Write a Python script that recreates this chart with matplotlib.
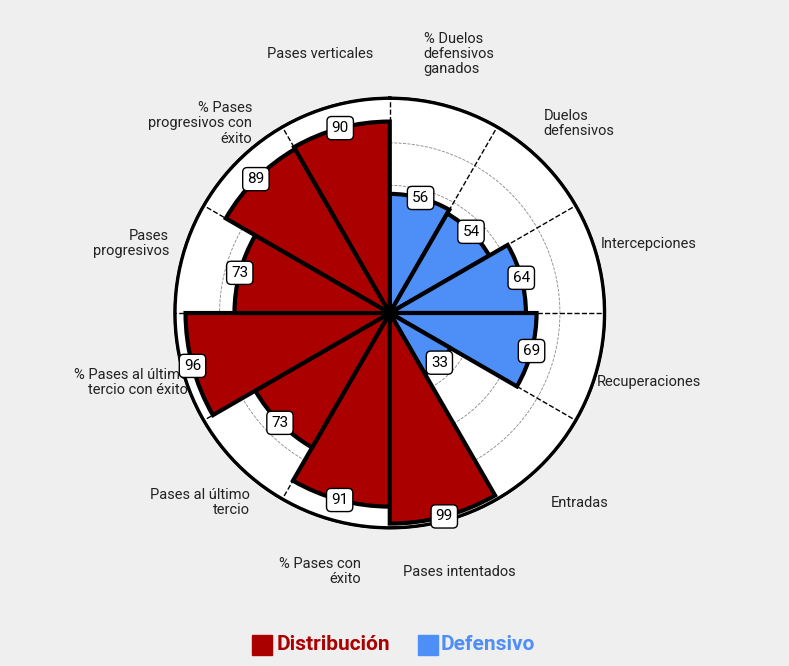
import numpy as np
import matplotlib.pyplot as plt
from matplotlib.patches import Rectangle

# categories clockwise from the top
categories = ['% Duelos\ndefensivos\nganados', 'Duelos\ndefensivos', 'Intercepciones', 'Recuperaciones',
              'Entradas', 'Pases intentados', '% Pases con\néxito', 'Pases al último\ntercio',
              '% Pases al último\ntercio con éxito', 'Pases\nprogresivos', '% Pases\nprogresivos con\néxito',
              'Pases verticales']
values = [56, 54, 64, 69, 33, 99, 91, 73, 96, 73, 89, 90]
groups = ['Defensivo'] * 5 + ['Distribución'] * 7

RED = '#aa0000'
BLUE = '#4d8ef7'
BG = '#efefef'
colors = [BLUE if g == 'Defensivo' else RED for g in groups]

plt.rcParams['font.family'] = ['Roboto', 'DejaVu Sans']

fig = plt.figure(figsize=(7.89, 6.66), dpi=100, facecolor=BG)
ax = fig.add_axes([0.219, 0.204, 0.55, 0.652], projection='polar')
ax.set_facecolor('white')
ax.set_theta_zero_location('N')
ax.set_theta_direction(-1)

n = len(values)
width = 2 * np.pi / n
theta = np.arange(n) * width + width / 2
rmax = 101

ax.bar(theta, values, width=width, color=colors, edgecolor='black', linewidth=3, zorder=3)

tt = np.linspace(0, 2 * np.pi, 300)
for g in [20, 40, 60, 80]:
    ax.plot(tt, np.full_like(tt, g), color='#888888', ls='--', lw=0.6, zorder=2)
for b in np.arange(n) * width:
    ax.plot([b, b], [0, rmax], color='black', ls='--', lw=1, zorder=2)
ax.plot(tt, np.full_like(tt, rmax), color='black', lw=2.5, zorder=4)
ax.scatter([0], [0], s=60, color='black', zorder=6)

for t, v in zip(theta, values):
    ax.text(t, v, str(v), ha='center', va='center', fontsize=11, zorder=7,
            bbox=dict(boxstyle='round,pad=0.3', fc='white', ec='black', lw=1))

for t, c in zip(theta, categories):
    right_half = np.sin(t) > 0
    ax.text(t, 126, c, ha='center', va='center', fontsize=10.5, color='#222222', linespacing=1.1,
            multialignment='left' if right_half else 'right')

ax.set_ylim(0, rmax + 1)
ax.set_xticks([])
ax.set_yticks([])
ax.grid(False)
ax.spines['polar'].set_visible(False)

# legend
fig.patches.append(Rectangle((252 / 789, 1 - 655 / 666), 20 / 789, 20 / 666,
                             transform=fig.transFigure, color=RED))
fig.text(277 / 789, 1 - 645 / 666, 'Distribución', color=RED, fontsize=15, fontweight='bold',
         ha='left', va='center')
fig.patches.append(Rectangle((418 / 789, 1 - 655 / 666), 20 / 789, 20 / 666,
                             transform=fig.transFigure, color=BLUE))
fig.text(441 / 789, 1 - 645 / 666, 'Defensivo', color=BLUE, fontsize=15, fontweight='bold',
         ha='left', va='center')

fig.savefig('out.png', dpi=100, facecolor=BG)
